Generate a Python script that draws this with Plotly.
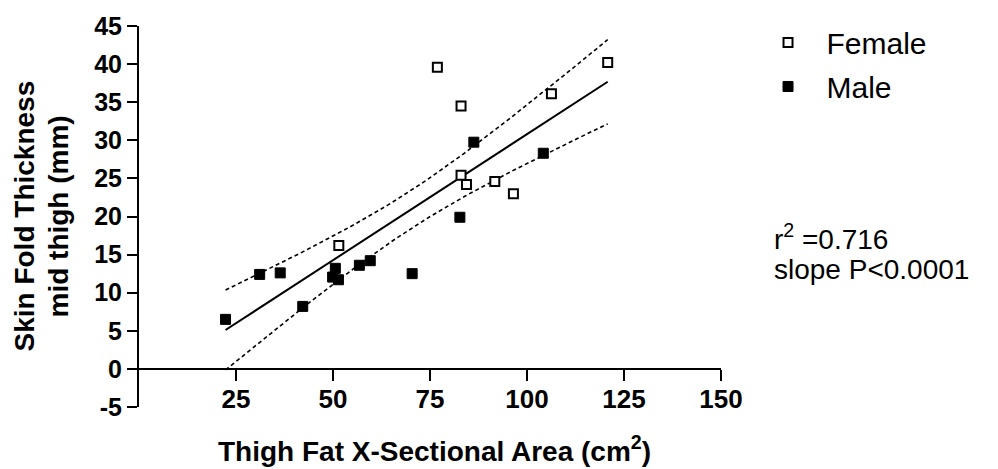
import numpy as np
import plotly.graph_objects as go

# Thigh fat cross-sectional area (cm^2) vs. mid-thigh skin fold thickness (mm)
female_area = [76.9, 83.0, 106.3, 120.8, 83.0, 84.4, 91.7, 96.5, 51.5]
female_skinfold = [39.6, 34.5, 36.1, 40.2, 25.4, 24.2, 24.6, 23.0, 16.2]

male_area = [22.3, 31.1, 36.4, 42.2, 50.6, 49.9, 51.4, 56.8, 59.6, 70.4, 86.3, 104.2, 82.7]
male_skinfold = [6.5, 12.4, 12.6, 8.2, 13.2, 12.05, 11.7, 13.6, 14.2, 12.5, 29.75, 28.3, 19.9]

x_ticks = [25, 50, 75, 100, 125, 150]
y_ticks = [-5, 0, 5, 10, 15, 20, 25, 30, 35, 40, 45]
y_tick_labels = ["-5", "0", "5", "10", "15", "20", "25", "30", "35", "40", "45"]

# Pooled linear regression with 95% confidence band of the fitted line
x_all = np.array(female_area + male_area)
y_all = np.array(female_skinfold + male_skinfold)
n = len(x_all)
slope, intercept = np.polyfit(x_all, y_all, 1)
resid = y_all - (slope * x_all + intercept)
s_err = np.sqrt(np.sum(resid ** 2) / (n - 2))
x_mean = x_all.mean()
sxx = np.sum((x_all - x_mean) ** 2)
t_crit = 2.0796  # two-sided 95%, df = 21

x_fit = np.linspace(x_all.min(), x_all.max(), 100)
y_fit = slope * x_fit + intercept
half = t_crit * s_err * np.sqrt(1.0 / n + (x_fit - x_mean) ** 2 / sxx)

FONT = "Liberation Sans, Arial, sans-serif"

fig = go.Figure()

fig.add_trace(go.Scatter(x=x_fit, y=y_fit + half, mode="lines",
                         line=dict(color="black", width=1.6, dash="4px,3px"),
                         showlegend=False, hoverinfo="skip"))
fig.add_trace(go.Scatter(x=x_fit, y=y_fit - half, mode="lines",
                         line=dict(color="black", width=1.6, dash="4px,3px"),
                         showlegend=False, hoverinfo="skip"))
fig.add_trace(go.Scatter(x=x_fit, y=y_fit, mode="lines",
                         line=dict(color="black", width=2),
                         showlegend=False, hoverinfo="skip"))

fig.add_trace(go.Scatter(x=female_area, y=female_skinfold, mode="markers",
                         name="Female", legendgroup="f",
                         marker=dict(symbol="square", size=9, color="white",
                                     line=dict(color="black", width=2))))
fig.add_trace(go.Scatter(x=male_area, y=male_skinfold, mode="markers",
                         name="Male", legendgroup="m",
                         marker=dict(symbol="square", size=10, color="black",
                                     line=dict(color="black", width=1))))

fig.update_layout(
    width=998, height=469,
    margin=dict(l=139, r=277, t=18, b=62),
    paper_bgcolor="white", plot_bgcolor="white",
    font=dict(family=FONT, color="black"),
    showlegend=True,
    legend=dict(x=1.049, y=1.025, xanchor="left", yanchor="top",
                font=dict(size=30, family=FONT),
                itemwidth=67,
                traceorder="grouped", tracegroupgap=2,
                bgcolor="rgba(0,0,0,0)"),
    xaxis=dict(range=[0, 150], tickvals=x_ticks, anchor="free", position=0.1,
               showline=True, linecolor="black", linewidth=2,
               ticks="outside", ticklen=11, tickwidth=2, tickcolor="black",
               tickfont=dict(size=26, family=FONT, weight="bold"),
               ticklabelstandoff=-4,
               showgrid=False, zeroline=False),
    yaxis=dict(range=[-5, 45], tickvals=y_ticks, ticktext=y_tick_labels,
               showline=True, linecolor="black", linewidth=2,
               ticks="outside", ticklen=10, tickwidth=2, tickcolor="black",
               tickfont=dict(size=25, family=FONT, weight="bold"),
               ticklabelstandoff=0,
               showgrid=False, zeroline=False),
    annotations=[
        dict(text="Thigh Fat X-Sectional Area (cm<sup>2</sup>)", xref="paper", yref="paper",
             x=0.5, y=0, xshift=4, yshift=-42, xanchor="center", yanchor="middle",
             showarrow=False, font=dict(size=28, family=FONT, weight="bold")),
        dict(text="Skin Fold Thickness", xref="paper", yref="paper",
             x=0, y=0.5, xshift=-115, xanchor="center", yanchor="middle", showarrow=False,
             textangle=-90, font=dict(size=28, family=FONT, weight="bold")),
        dict(text="mid thigh (mm)", xref="paper", yref="paper",
             x=0, y=0.5, xshift=-81, xanchor="center", yanchor="middle", showarrow=False,
             textangle=-90, font=dict(size=28, family=FONT, weight="bold")),
        dict(text="r<sup>2</sup> =0.716", xref="paper", yref="paper",
             x=1, y=1, xshift=51, yshift=-211, xanchor="left", yanchor="middle",
             showarrow=False, font=dict(size=28, family=FONT)),
        dict(text="slope P<0.0001", xref="paper", yref="paper",
             x=1, y=1, xshift=51, yshift=-243, xanchor="left", yanchor="middle",
             showarrow=False, font=dict(size=28, family=FONT)),
    ],
)

fig.write_html("out.html")
